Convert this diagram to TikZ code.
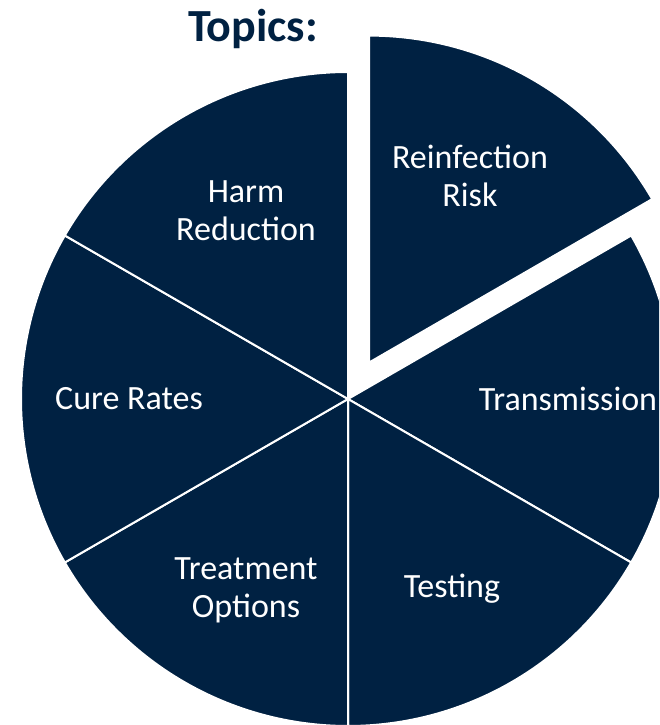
\documentclass[tikz,border=0pt]{standalone}
\usepackage{fontspec}
\setmainfont{Carlito}
\definecolor{navy}{RGB}{0,33,66}
\begin{document}
\begin{tikzpicture}[x=1pt,y=1pt,
  slice/.style={fill=navy,draw=white,line width=2pt,line join=miter},
  lbl/.style={text=white,font=\fontsize{34}{38}\selectfont,align=center,inner sep=0pt}]
\useasboundingbox (0,0) rectangle (659,725);
\clip (0,0) rectangle (659,725);
\coordinate (c) at (348,326);
\coordinate (e) at (369,362.4);
\foreach \s in {-30,-90,-150,-210,90}
  \filldraw[slice] (c) -- ++(\s:327) arc[start angle=\s, end angle=\s+60, radius=327] -- cycle;
\filldraw[slice] (e) -- ++(30:327) arc[start angle=30, end angle=90, radius=327] -- cycle;
\node[text=navy,font=\fontsize{46}{52}\selectfont\bfseries,inner sep=0pt] (title) at (253,696) {Topics:};
\node[lbl] (reinf) at (470,549) {Reinfection\\Risk};
\node[lbl] (harm) at (246,514) {Harm\\Reduction};
\node[lbl] (cure) at (129,326) {Cure Rates};
\node[lbl] (trans) at (568,326) {Transmission};
\node[lbl] (test) at (452,136) {Testing};
\node[lbl] (treat) at (246,135) {Treatment\\Options};
\end{tikzpicture}
\end{document}
